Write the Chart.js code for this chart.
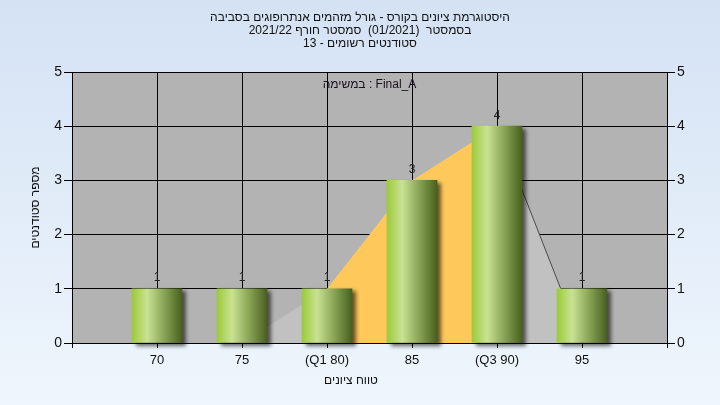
<!DOCTYPE html>
<html>
<head>
<meta charset="utf-8">
<script src="https://cdn.jsdelivr.net/npm/chart.js@4.4.1/dist/chart.umd.min.js"></script>
<style>
  html, body { margin: 0; padding: 0; }
  #wrap { width: 720px; height: 405px; position: relative; }
</style>
</head>
<body>
<div id="wrap"><canvas id="histChart"></canvas></div>
<script>
// data
const titleLines = [
  'היסטוגרמת ציונים בקורס - גורל מזהמים אנתרופוגים בסביבה',
  'בסמסטר  (01/2021)  סמסטר חורף 2021/22',
  'סטודנטים רשומים - 13'
];
const taskLabel = 'במשימה : Final_A';
const xTitle = 'טווח ציונים';
const yTitle = 'מספר סטודנטים';

const scoreBins = [70, 75, 80, 85, 90, 95];
const binLabels = ['70', '75', '(Q1 80)', '85', '(Q3 90)', '95'];
const studentCounts = [1, 1, 1, 3, 4, 1];

// distribution outline behind the bars
const curveX = [75, 80, 85, 90, 95];
const curveY = [0, 1, 3, 4, 0];

const FONT = '"Liberation Sans", Arial, "DejaVu Sans", sans-serif';
const COLORS = {
  plot: '#b3b3b3',
  sideArea: '#c1c1c1',
  midArea: '#fec95a',
  line: '#4a4a4a',
  text: '#111111'
};

const bgPlugin = {
  id: 'bg',
  beforeDraw(chart) {
    const { ctx, width, height, chartArea: a } = chart;
    const g = ctx.createLinearGradient(0, 0, 0, height);
    g.addColorStop(0, '#d4e2f4');
    g.addColorStop(1, '#eff6fd');
    ctx.save();
    ctx.fillStyle = g;
    ctx.fillRect(0, 0, width, height);
    ctx.fillStyle = COLORS.plot;
    ctx.fillRect(a.left, a.top, a.right - a.left, a.bottom - a.top);
    ctx.restore();
  }
};

const shadowPlugin = {
  id: 'barShadow',
  beforeDatasetDraw(chart, args) {
    if (args.meta.type !== 'bar') return;
    const ctx = chart.ctx;
    ctx.save();
    ctx.shadowColor = 'rgba(0,0,0,0.6)';
    ctx.shadowBlur = 4;
    ctx.shadowOffsetX = 4;
    ctx.shadowOffsetY = 3;
  },
  afterDatasetDraw(chart, args) {
    if (args.meta.type !== 'bar') return;
    chart.ctx.restore();
  }
};

const textPlugin = {
  id: 'texts',
  afterDatasetsDraw(chart) {
    const { ctx, chartArea: a } = chart;
    ctx.save();
    ctx.font = '12px ' + FONT;
    ctx.fillStyle = '#222';
    ctx.textAlign = 'center';
    ctx.textBaseline = 'bottom';
    chart.data.datasets.forEach((ds, i) => {
      const meta = chart.getDatasetMeta(i);
      if (meta.type !== 'bar') return;
      meta.data.forEach((bar, j) => {
        ctx.fillText(String(ds.data[j].y), bar.x, bar.y - 5);
      });
    });
    ctx.textBaseline = 'middle';
    ctx.fillStyle = '#1a1020';
    ctx.fillText(taskLabel, (a.left + a.right) / 2, a.top + 13);
    ctx.fillStyle = COLORS.text;
    ctx.fillText(xTitle, 351, 381);
    ctx.restore();
  }
};

function barGradient(c) {
  const chart = c.chart;
  const xs = chart.scales.x;
  if (!xs || c.type !== 'data' || !c.raw) return '#9bc93a';
  const x = xs.getPixelForValue(c.raw.x);
  if (!Number.isFinite(x)) return '#9bc93a';
  const g = chart.ctx.createLinearGradient(x - 25, 0, x + 25, 0);
  g.addColorStop(0, '#9cca3a');
  g.addColorStop(0.3, '#c9e293');
  g.addColorStop(0.62, '#8ea85a');
  g.addColorStop(1, '#48601f');
  return g;
}

const ctx = document.getElementById('histChart').getContext('2d');

new Chart(ctx, {
  type: 'bar',
  data: {
    datasets: [
      {
        type: 'bar',
        label: 'students',
        data: scoreBins.map((x, i) => ({ x: x, y: studentCounts[i] })),
        backgroundColor: barGradient,
        borderWidth: 0,
        barThickness: 50,
        clip: false,
        order: 0
      },
      {
        type: 'line',
        label: 'curve',
        data: curveX.map((x, i) => ({ x: x, y: curveY[i] })),
        fill: 'origin',
        tension: 0,
        pointRadius: 0,
        borderWidth: 1,
        borderColor: COLORS.line,
        backgroundColor: COLORS.sideArea,
        segment: {
          backgroundColor: s => (s.p0DataIndex >= 1 && s.p0DataIndex <= 2) ? COLORS.midArea : COLORS.sideArea,
          borderColor: s => s.p0DataIndex === 3 ? COLORS.line : 'rgba(0,0,0,0)'
        },
        order: 1
      }
    ]
  },
  options: {
    responsive: true,
    maintainAspectRatio: false,
    animation: false,
    devicePixelRatio: 1,
    layout: { padding: 0 },
    plugins: {
      legend: { display: false },
      tooltip: { enabled: false },
      title: {
        display: true,
        text: titleLines,
        color: COLORS.text,
        font: { family: FONT, size: 12, weight: 'normal', lineHeight: 13 / 12 },
        padding: { top: 11, bottom: 22 }
      }
    },
    scales: {
      x: {
        type: 'linear',
        position: 'bottom',
        min: 65,
        max: 100,
        offset: false,
        afterFit(scale) { scale.height = 62; },
        grid: { offset: false, color: '#000', lineWidth: 1, tickLength: 5, tickColor: '#000' },
        border: { color: '#000', width: 1 },
        ticks: {
          stepSize: 5,
          autoSkip: false,
          maxRotation: 0,
          padding: 5,
          color: COLORS.text,
          font: { family: FONT, size: 13 },
          callback(value) {
            const k = scoreBins.indexOf(value);
            return k >= 0 ? binLabels[k] : '';
          }
        }
      },
      y: {
        position: 'left',
        min: 0,
        max: 5,
        afterFit(scale) { scale.width = 72; },
        grid: { color: '#000', lineWidth: 1, tickLength: 8, tickColor: '#000' },
        border: { color: '#000', width: 1 },
        ticks: { stepSize: 1, padding: 2, color: COLORS.text, font: { family: FONT, size: 14 } },
        title: {
          display: true,
          text: yTitle,
          color: COLORS.text,
          font: { family: FONT, size: 12 },
          padding: { top: 28, bottom: 0 }
        }
      },
      y2: {
        position: 'right',
        min: 0,
        max: 5,
        afterFit(scale) { scale.width = 53; },
        grid: { drawOnChartArea: false, color: '#000', tickLength: 8, tickColor: '#000' },
        border: { color: '#000', width: 1 },
        ticks: { stepSize: 1, padding: 2, color: COLORS.text, font: { family: FONT, size: 14 } }
      }
    }
  },
  plugins: [bgPlugin, shadowPlugin, textPlugin]
});
</script>
</body>
</html>
